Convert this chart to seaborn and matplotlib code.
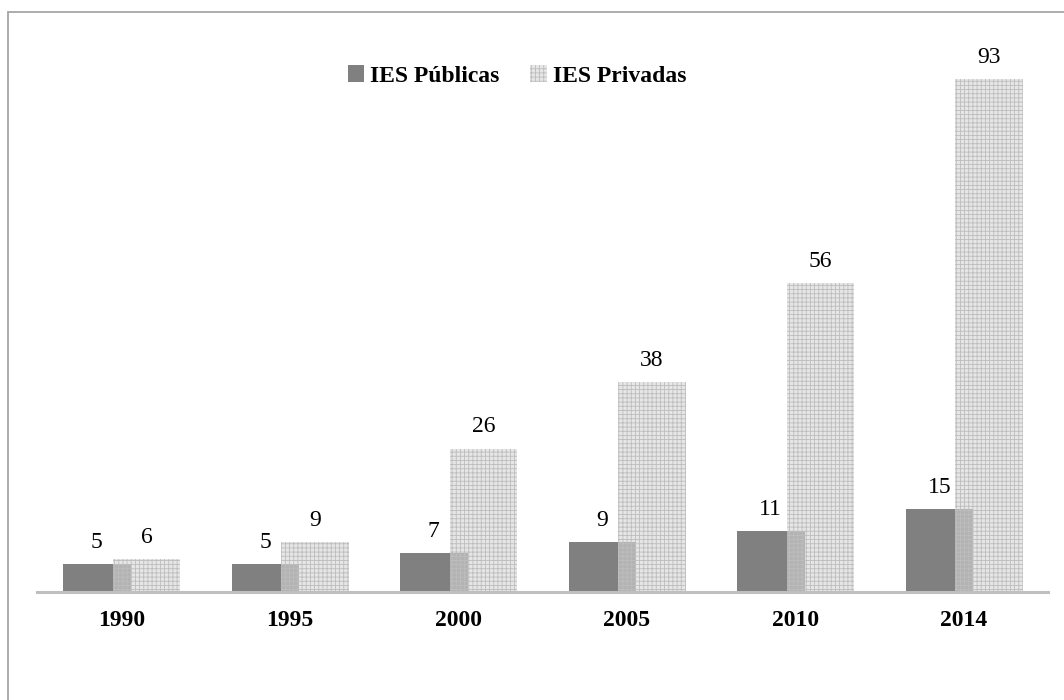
import numpy as np
import pandas as pd
import matplotlib
matplotlib.use("Agg")
import matplotlib.pyplot as plt
from matplotlib.lines import Line2D
import seaborn as sns

# Number of institutions per year
years = ["1990", "1995", "2000", "2005", "2010", "2014"]
publicas = [5, 5, 7, 9, 11, 15]
privadas = [6, 9, 26, 38, 56, 93]

sns.set_theme(style="white")
plt.rcParams["font.family"] = ["Liberation Serif", "DejaVu Serif"]
plt.rcParams["text.color"] = "black"
plt.rcParams["xtick.color"] = "black"
plt.rcParams["hatch.linewidth"] = 0.6
plt.rcParams["hatch.color"] = "#bdbdbd"

idx = np.arange(len(years))
df_pub = pd.DataFrame({"pos": idx - 0.145, "valor": publicas})
df_priv = pd.DataFrame({"pos": idx + 0.15, "valor": privadas})

fig = plt.figure(figsize=(10.64, 7.0), dpi=100)
ax = fig.add_axes([37 / 1064, 108 / 700, 1011 / 1064, 551.6 / 700])

sns.barplot(data=df_pub, x="pos", y="valor", native_scale=True, width=0.4,
            color="#808080", saturation=1, linewidth=0, errorbar=None,
            label="IES Públicas", ax=ax)
sns.barplot(data=df_priv, x="pos", y="valor", native_scale=True, width=0.4,
            color="#d4d4d4", saturation=1, linewidth=0, errorbar=None,
            label="IES Privadas", ax=ax)

# Private bars: translucent fill with a fine grid pattern
for bar in ax.containers[1]:
    bar.set_facecolor((0.84, 0.84, 0.84, 0.6))
    bar.set_hatch("++++")
    bar.set_edgecolor("#bdbdbd")
    bar.set_linewidth(0)

for cont in ax.containers:
    ax.bar_label(cont, fmt="%d", padding=8, fontsize=17, color="black")

ax.set_xlim(-0.5, len(years) - 0.5)
ax.set_ylim(0, 100)
ax.set_xticks(idx)
ax.set_xticklabels(years, fontsize=17, fontweight="bold", color="black")
ax.tick_params(axis="x", length=0, pad=13)
ax.set_yticks([])
ax.set_xlabel("")
ax.set_ylabel("")
for side in ["left", "right", "top"]:
    ax.spines[side].set_visible(False)
ax.spines["bottom"].set_color("#bfbfbf")
ax.spines["bottom"].set_linewidth(2.2)

leg = ax.legend(loc="center", bbox_to_anchor=(517 / 1064, 1 - 76 / 700),
                bbox_transform=fig.transFigure, ncol=2, frameon=False,
                handlelength=0.7, handleheight=0.7, handletextpad=0.25,
                columnspacing=1.3, prop={"size": 17, "weight": "bold"})
for t in leg.get_texts():
    t.set_color("black")

# Outer chart frame (top and left edges)
fig.add_artist(Line2D([8 / 1064, 8 / 1064], [0, 1 - 12 / 700],
                      transform=fig.transFigure, color="#a6a6a6", lw=1.3))
fig.add_artist(Line2D([8 / 1064, 1], [1 - 12 / 700, 1 - 12 / 700],
                      transform=fig.transFigure, color="#a6a6a6", lw=1.3))

fig.savefig("out.png", dpi=100)
